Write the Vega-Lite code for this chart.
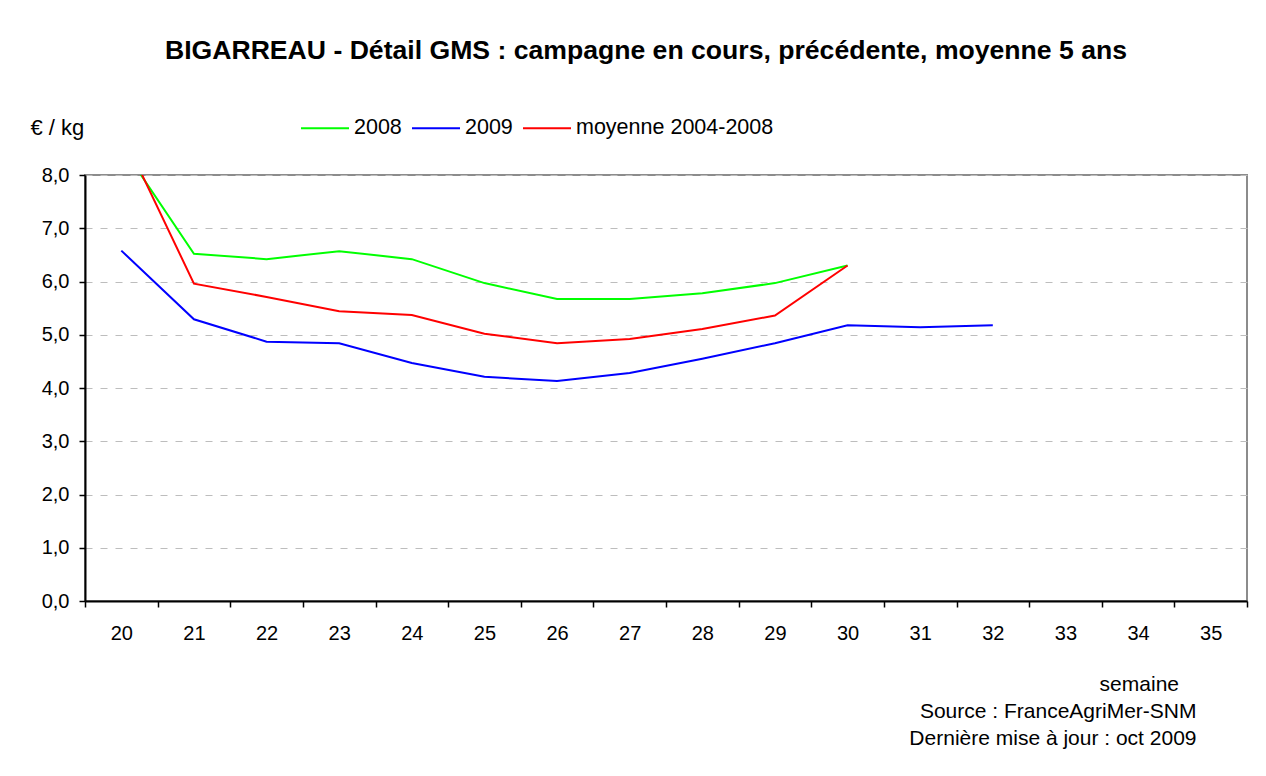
{
  "$schema": "https://vega.github.io/schema/vega-lite/v6.json",
  "width": 1162,
  "height": 426,
  "autosize": {"type": "none"},
  "padding": {"left": 85, "top": 175, "right": 19, "bottom": 175},
  "background": "white",
  "title": {
    "text": "BIGARREAU - Détail GMS : campagne en cours, précédente, moyenne 5 ans",
    "font": "Liberation Sans",
    "fontSize": 26.6,
    "fontWeight": "bold",
    "color": "black",
    "anchor": "middle",
    "dx": -20,
    "dy": -18,
    "offset": 20
  },
  "data": {
    "values": [
      {"semaine": 20, "serie": "2008", "prix": 8.55},
      {"semaine": 21, "serie": "2008", "prix": 6.52},
      {"semaine": 22, "serie": "2008", "prix": 6.42},
      {"semaine": 23, "serie": "2008", "prix": 6.57},
      {"semaine": 24, "serie": "2008", "prix": 6.42},
      {"semaine": 25, "serie": "2008", "prix": 5.97},
      {"semaine": 26, "serie": "2008", "prix": 5.67},
      {"semaine": 27, "serie": "2008", "prix": 5.67},
      {"semaine": 28, "serie": "2008", "prix": 5.78},
      {"semaine": 29, "serie": "2008", "prix": 5.97},
      {"semaine": 30, "serie": "2008", "prix": 6.3},
      {"semaine": 20, "serie": "2009", "prix": 6.58},
      {"semaine": 21, "serie": "2009", "prix": 5.29},
      {"semaine": 22, "serie": "2009", "prix": 4.87},
      {"semaine": 23, "serie": "2009", "prix": 4.84},
      {"semaine": 24, "serie": "2009", "prix": 4.47},
      {"semaine": 25, "serie": "2009", "prix": 4.21},
      {"semaine": 26, "serie": "2009", "prix": 4.13},
      {"semaine": 27, "serie": "2009", "prix": 4.28},
      {"semaine": 28, "serie": "2009", "prix": 4.55},
      {"semaine": 29, "serie": "2009", "prix": 4.84},
      {"semaine": 30, "serie": "2009", "prix": 5.18},
      {"semaine": 31, "serie": "2009", "prix": 5.14},
      {"semaine": 32, "serie": "2009", "prix": 5.18},
      {"semaine": 20, "serie": "moyenne 2004-2008", "prix": 8.82},
      {"semaine": 21, "serie": "moyenne 2004-2008", "prix": 5.96},
      {"semaine": 22, "serie": "moyenne 2004-2008", "prix": 5.71},
      {"semaine": 23, "serie": "moyenne 2004-2008", "prix": 5.44},
      {"semaine": 24, "serie": "moyenne 2004-2008", "prix": 5.37},
      {"semaine": 25, "serie": "moyenne 2004-2008", "prix": 5.02},
      {"semaine": 26, "serie": "moyenne 2004-2008", "prix": 4.84},
      {"semaine": 27, "serie": "moyenne 2004-2008", "prix": 4.92},
      {"semaine": 28, "serie": "moyenne 2004-2008", "prix": 5.11},
      {"semaine": 29, "serie": "moyenne 2004-2008", "prix": 5.36},
      {"semaine": 30, "serie": "moyenne 2004-2008", "prix": 6.3}
    ]
  },
  "mark": {"type": "line", "clip": true, "strokeWidth": 2},
  "encoding": {
    "x": {
      "field": "semaine",
      "type": "quantitative",
      "scale": {"domain": [19.5, 35.5], "nice": false, "zero": false},
      "axis": {
        "values": [19.5, 20, 20.5, 21, 21.5, 22, 22.5, 23, 23.5, 24, 24.5, 25, 25.5, 26, 26.5, 27, 27.5, 28, 28.5, 29, 29.5, 30, 30.5, 31, 31.5, 32, 32.5, 33, 33.5, 34, 34.5, 35, 35.5],
        "labelExpr": "datum.value % 1 == 0 ? datum.value : ''",
        "tickOpacity": {"condition": {"test": "datum.value % 1 != 0", "value": 1}, "value": 0},
        "tickSize": 6,
        "tickColor": "black",
        "tickWidth": 1.5,
        "domainColor": "black",
        "domainWidth": 2,
        "grid": false,
        "labelFont": "Liberation Sans",
        "labelFontSize": 20,
        "labelColor": "black",
        "labelPadding": 16,
        "labelBaseline": "top",
        "labelFlush": false,
        "labelOverlap": false,
        "title": ["semaine\u00a0\u00a0\u00a0\u200b", "Source : FranceAgriMer-SNM", "Dernière mise à jour : oct 2009"],
        "titleAlign": "right",
        "titleAnchor": null,
        "titleX": 1111,
        "titleY": 89,
        "titleBaseline": "alphabetic",
        "titleLineHeight": 27,
        "titleFont": "Liberation Sans",
        "titleFontSize": 21,
        "titleFontWeight": "normal",
        "titleColor": "black"
      }
    },
    "y": {
      "field": "prix",
      "type": "quantitative",
      "scale": {"domain": [0, 8], "nice": false},
      "axis": {
        "values": [0, 1, 2, 3, 4, 5, 6, 7, 8],
        "labelExpr": "replace(format(datum.value, '.1f'), '.', ',')",
        "grid": true,
        "gridColor": "#bdbdbd",
        "gridDash": [7, 8],
        "gridWidth": 1,
        "tickSize": 6,
        "tickColor": "black",
        "tickWidth": 1.5,
        "domainColor": "black",
        "domainWidth": 2,
        "labelFont": "Liberation Sans",
        "labelFontSize": 20,
        "labelColor": "black",
        "labelPadding": 10,
        "title": "€ / kg",
        "titleAngle": 0,
        "titleX": -55,
        "titleY": -48,
        "titleAlign": "left",
        "titleBaseline": "middle",
        "titleFont": "Liberation Sans",
        "titleFontSize": 22,
        "titleFontWeight": "normal",
        "titleColor": "black"
      }
    },
    "color": {
      "field": "serie",
      "type": "nominal",
      "scale": {"domain": ["2008", "2009", "moyenne 2004-2008"], "range": ["#00ff00", "#0000ff", "#ff0000"]},
      "legend": {
        "title": null,
        "orient": "none",
        "legendX": 215,
        "legendY": -72,
        "direction": "horizontal",
        "symbolType": "stroke",
        "symbolSize": 2304,
        "symbolStrokeWidth": 2,
        "labelFont": "Liberation Sans",
        "labelFontSize": 21.5,
        "labelColor": "black",
        "labelOffset": 4,
        "columnPadding": 6,
        "labelLimit": 400
      }
    }
  },
  "config": {
    "view": {"stroke": "#8c8c8c", "strokeWidth": 2}
  }
}
